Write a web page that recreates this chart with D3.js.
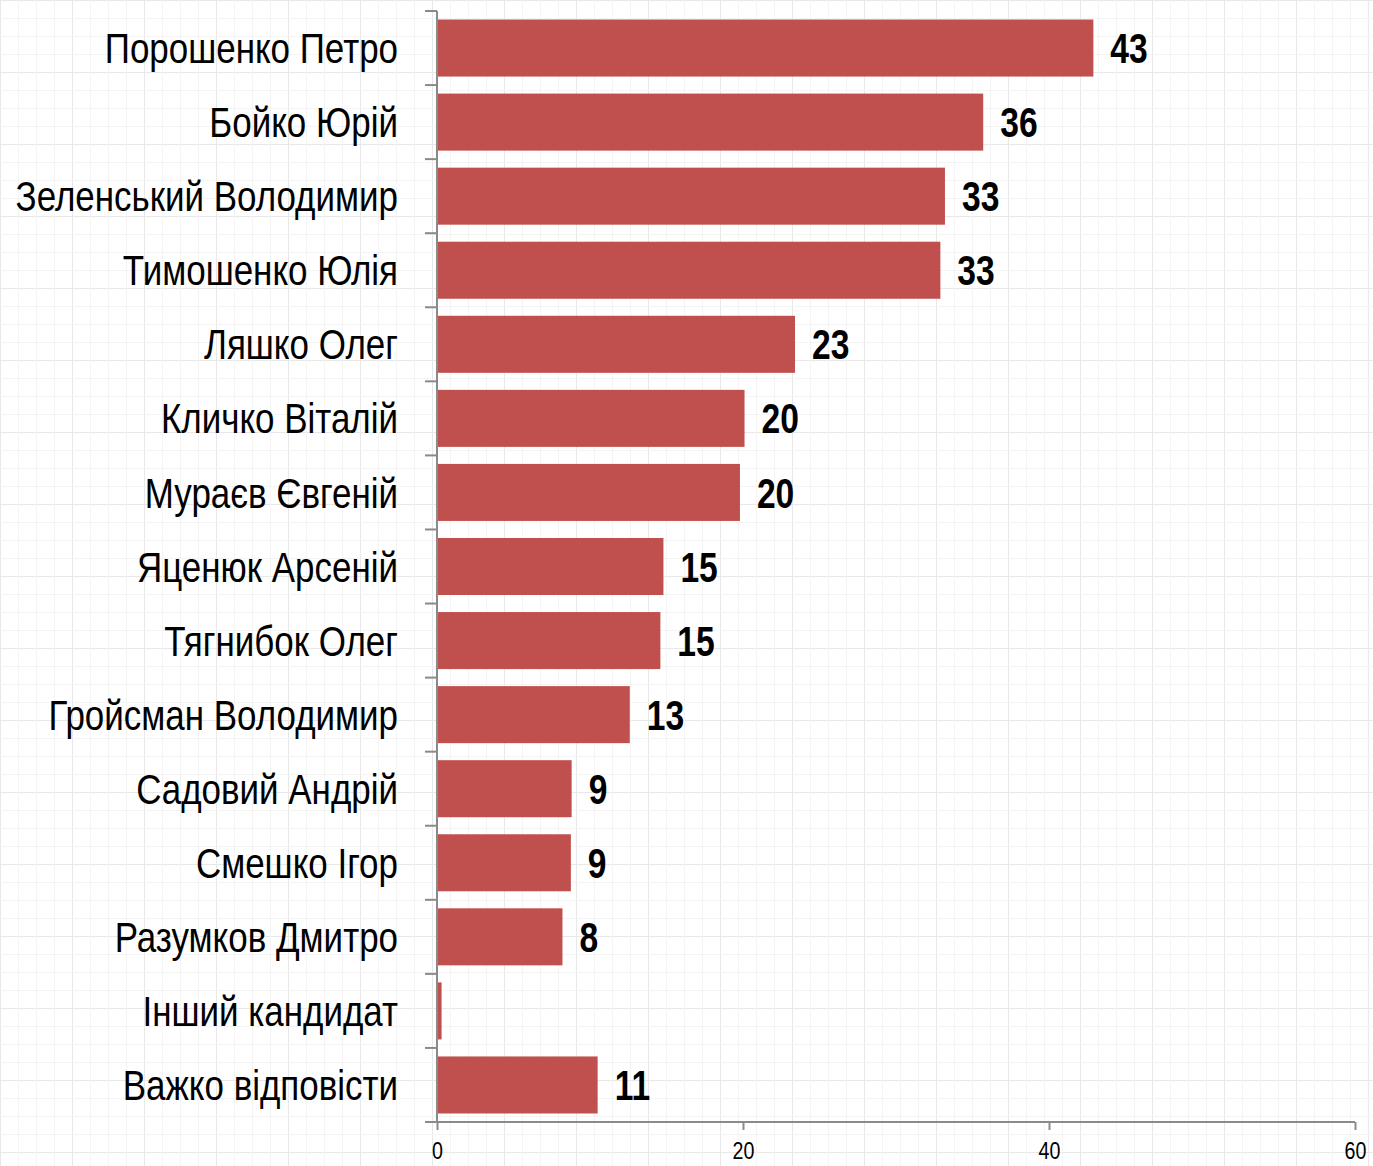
<!DOCTYPE html>
<html>
<head>
<meta charset="utf-8">
<script src="https://cdn.jsdelivr.net/npm/d3@7"></script>
<style>
  body { margin: 0; background: #fff; }
  svg text { font-family: "Liberation Sans", Arial, sans-serif; }
</style>
</head>
<body>
<div class="chart"></div>
<script>
// candidates, top to bottom
var names = [
  "Порошенко Петро", "Бойко Юрій", "Зеленський Володимир", "Тимошенко Юлія",
  "Ляшко Олег", "Кличко Віталій", "Мураєв Євгеній", "Яценюк Арсеній",
  "Тягнибок Олег", "Гройсман Володимир", "Садовий Андрій", "Смешко Ігор",
  "Разумков Дмитро", "Інший кандидат", "Важко відповісти"
];
var values = [42.9, 35.7, 33.2, 32.9, 23.4, 20.1, 19.8, 14.8, 14.6, 12.6, 8.8, 8.75, 8.2, 0.3, 10.5];
var labels = ["43", "36", "33", "33", "23", "20", "20", "15", "15", "13", "9", "9", "8", "", "11"];
var xTicks = [0, 20, 40, 60];

var width = 1373;
var height = 1166;
var narrow = 0.832; // squeeze Liberation Sans to look like Arial Narrow
var narrowBold = 0.8;

var svg = d3
  .select(".chart")
  .append("svg")
  .attr("width", width)
  .attr("height", height);

// graph-paper background
var defs = svg.append("defs");
var pat = defs
  .append("pattern")
  .attr("id", "grid")
  .attr("width", 72)
  .attr("height", 72)
  .attr("patternUnits", "userSpaceOnUse");
pat.append("rect").attr("width", 72).attr("height", 72).attr("fill", "#fff");
[0, 18, 36, 54].forEach(function (p) {
  var c = p == 0 ? "#e8e8e8" : "#f4f4f4";
  pat.append("line").attr("x1", p + 0.5).attr("x2", p + 0.5).attr("y1", 0).attr("y2", 72).attr("stroke", c);
  pat.append("line").attr("y1", p + 0.5).attr("y2", p + 0.5).attr("x1", 0).attr("x2", 72).attr("stroke", c);
});
svg.append("rect").attr("width", width).attr("height", height).attr("fill", "url(#grid)");

var x = d3.scaleLinear().domain([0, 60]).range([437, 1355]);
var y = d3
  .scaleBand()
  .domain(names)
  .range([11, 1122])
  .paddingInner(0.23)
  .paddingOuter(0.115);

var axisColor = "#8a8a8a";

// bars
svg
  .append("g")
  .selectAll("rect")
  .data(values)
  .enter()
  .append("rect")
  .attr("x", x(0))
  .attr("y", function (d, i) { return y(names[i]); })
  .attr("width", function (d) { return x(d) - x(0); })
  .attr("height", y.bandwidth())
  .attr("fill", "#c0504d");

// value labels
svg
  .append("g")
  .attr("transform", "scale(" + narrowBold + ",1)")
  .selectAll("text")
  .data(values)
  .enter()
  .append("text")
  .attr("x", function (d) { return (x(d) + 17) / narrowBold; })
  .attr("y", function (d, i) { return y(names[i]) + y.bandwidth() / 2; })
  .attr("dy", "0.36em")
  .style("font-size", "42px")
  .style("font-weight", "bold")
  .text(function (d, i) { return labels[i]; });

// category labels
svg
  .append("g")
  .attr("transform", "scale(" + narrow + ",1)")
  .selectAll("text")
  .data(names)
  .enter()
  .append("text")
  .attr("x", 398 / narrow)
  .attr("y", function (d) { return y(d) + y.bandwidth() / 2; })
  .attr("dy", "0.36em")
  .attr("text-anchor", "end")
  .style("font-size", "42px")
  .text(function (d) { return d; });

// y axis: line with ticks at band boundaries
var yAxis = svg.append("g").attr("stroke", axisColor).attr("stroke-width", 2);
yAxis.append("line").attr("x1", x(0)).attr("x2", x(0)).attr("y1", y.range()[0]).attr("y2", y.range()[1]);
d3.range(names.length + 1).forEach(function (i) {
  var yy = y.range()[0] + i * y.step();
  yAxis.append("line").attr("x1", x(0) - 12).attr("x2", x(0)).attr("y1", yy).attr("y2", yy);
});

// x axis
var xAxis = svg
  .append("g")
  .attr("transform", "translate(0," + y.range()[1] + ")")
  .call(d3.axisBottom(x).tickValues(xTicks).tickSize(8).tickSizeOuter(0).tickPadding(12));
xAxis.select(".domain").attr("d", "M" + (x(0) - 12) + ",0H" + x(60)).attr("stroke", axisColor).attr("stroke-width", 2);
xAxis.selectAll(".tick line").attr("stroke", axisColor).attr("stroke-width", 2);
xAxis
  .selectAll(".tick text")
  .attr("fill", "#000")
  .attr("transform", "scale(0.82,1)")
  .style("font-size", "24px")
  .style("font-family", "'Liberation Sans', Arial, sans-serif");
</script>
</body>
</html>
